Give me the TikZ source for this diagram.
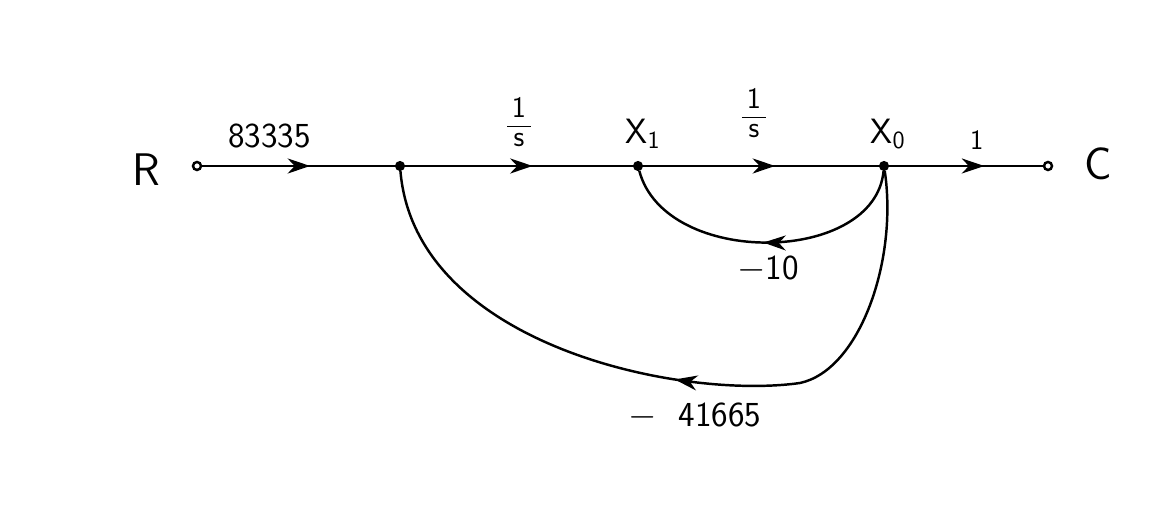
\documentclass[tikz,border=0pt]{standalone}
\usepackage{fontspec}
\usetikzlibrary{arrows.meta,decorations.markings}

\newcommand{\gainfrac}[2]{\fontsize{17}{19}\selectfont\renewcommand{\arraystretch}{0.85}%
  \begin{tabular}{@{\,}c@{\,}}#1\\\hline #2\end{tabular}}

\begin{document}
\begin{tikzpicture}[line width=1.4pt,
    sig node/.style={circle,draw,fill=black,inner sep=0pt,minimum size=0.15cm},
    end node/.style={circle,draw,fill=white,inner sep=0pt,minimum size=0.16cm},
    flow/.style={postaction={decorate},decoration={markings,
        mark=at position #1 with {\arrow{Stealth[length=0.45cm,width=0.3cm,inset=0.14cm]}}}},
    flow/.default=0.56,
    every node/.style={font=\sffamily\fontsize{20}{24}\selectfont}]

\useasboundingbox[fill=white] (0,0) rectangle (23.3,10.14);

  \node[end node] (R) at (3.94,6.82) {};
  \node[sig node] (J) at (8.00,6.82) {};
  \node[sig node] (X1) at (12.76,6.82) {};
  \node[sig node] (X0) at (17.68,6.82) {};
  \node[end node] (C) at (20.96,6.82) {};

  \node (Rtext) at (2.92,6.74) {\fontsize{26}{30}\selectfont R};
  \node (Ctext) at (21.96,6.86) {\fontsize{26}{30}\selectfont C};
  \node (X1text) at (12.86,7.46) {X\textsubscript{1}};
  \node (X0text) at (17.76,7.46) {X\textsubscript{0}};

  \coordinate (lowturn) at (16.0,2.48);

  \path
    (R)  edge[flow] node[above=0.22cm,pos=0.35] {83335} (J)
    (J)  edge[flow] node[above=0.16cm,inner sep=1pt] {\gainfrac{1}{s}} (X1)
    (X1) edge[flow] node[above=0.34cm,pos=0.47,inner sep=1pt] {\gainfrac{1}{s}} (X0)
    (X0) edge[flow=0.62] node[above=0.18cm,pos=0.57] {\fontsize{16}{18}\selectfont 1} (C);

  % feedback paths
  \draw[flow=0.5] (X0) .. controls +(-0.18,-1.98) and +(0.54,-2.04) .. (X1)
    node[pos=0.5,below=0.12cm] {$-$10};
  \draw[flow=0.5] (X0) .. controls (17.96,4.94) and (17.2,2.74) .. (lowturn)
    .. controls (13.6,2.14) and (8.3,3.24) .. (J);
  \node (gain) at (13.9,1.82) {$-$\ \ 41665};

\end{tikzpicture}
\end{document}
